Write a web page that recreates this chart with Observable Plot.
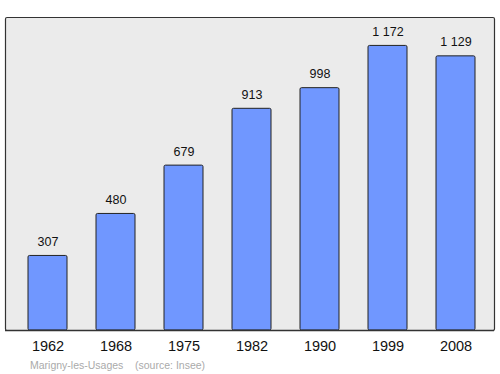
<!DOCTYPE html>
<html>
<head>
<meta charset="utf-8">
<script src="https://cdn.jsdelivr.net/npm/d3@7"></script>
<script src="https://cdn.jsdelivr.net/npm/@observablehq/plot@0.6"></script>
<style>
  body { margin: 0; background: #fff; font-family: "Liberation Sans", Arial, sans-serif; }
  #caption { position: absolute; left: 30px; top: 358px; font-size: 10.5px; line-height: 14px; color: #aaaaaa; white-space: pre; }
</style>
</head>
<body>
<div id="chart"></div>
<div id="caption">Marigny-les-Usages    (source: Insee)</div>
<script>
const years = ["1962", "1968", "1975", "1982", "1990", "1999", "2008"];
const population = [307, 480, 679, 913, 998, 1172, 1129];

const data = years.map((y, i) => ({year: y, pop: population[i]}));
const fmt = d3.formatLocale({decimal: ",", thousands: "\u00a0", grouping: [3], currency: ["", ""]}).format(",d");

const chart = Plot.plot({
  width: 500,
  height: 356,
  marginTop: 17,
  marginBottom: 26,
  marginLeft: 5,
  marginRight: 6,
  style: {fontFamily: "Liberation Sans, Arial, sans-serif", background: "transparent"},
  x: {domain: years, range: [11.25, 490.75], paddingInner: 0.43, paddingOuter: 0.215, label: null},
  y: {domain: [0, 1289], axis: null},
  marks: [
    Plot.frame({fill: "#ebebeb", stroke: "#333", strokeWidth: 1.2, rx: 1.5}),
    Plot.barY(data, {x: "year", y: "pop", fill: "#7097ff", stroke: "#222", strokeWidth: 1, rx: 1.5}),
    Plot.text(data, {x: "year", y: "pop", text: d => fmt(d.pop), dy: -14, fontSize: 12.5, fill: "#111"}),
    Plot.axisX({tickSize: 0, tickPadding: 10, fontSize: 14.5, fill: "#111"}),
    Plot.ruleY([0], {stroke: "#333", strokeWidth: 1.4})
  ]
});
document.getElementById("chart").appendChild(chart);
</script>
</body>
</html>
